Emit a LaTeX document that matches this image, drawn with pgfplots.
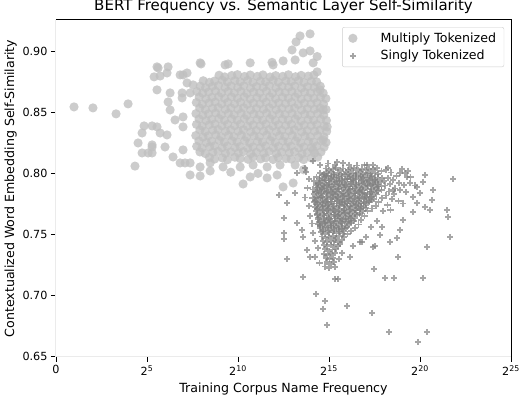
\documentclass[border=0pt]{standalone}
\usepackage{pgfplots}
\pgfplotsset{compat=1.18}
\usepackage{fontspec}
\setmainfont{DejaVu Sans}
\definecolor{spinegray}{HTML}{EBEBEB}
\definecolor{legframe}{HTML}{CCCCCC}
\newcommand{\tickfont}{\fontsize{11.2}{13}\selectfont}
\newcommand{\labfont}{\fontsize{12.6}{15}\selectfont}
\begin{document}
\begin{tikzpicture}
\begin{axis}[
  name=ax,
  scale only axis,
  width=455pt, height=337pt,
  xmin=0, xmax=25, ymin=0.6492, ymax=0.926,
  clip=false,
  axis line style={draw=none},
  xtick={0,5,10,15,20,25},
  xticklabels={0,2\textsuperscript{5},2\textsuperscript{10},2\textsuperscript{15},2\textsuperscript{20},2\textsuperscript{25}},
  ytick={0.65,0.70,0.75,0.80,0.85,0.90},
  yticklabel style={/pgf/number format/.cd, fixed, fixed zerofill, precision=2, assume math mode=true},
  tick label style={font=\tickfont},
  xtick pos=lower, ytick pos=left,
  tick align=outside, major tick length=5pt,
  tick style={black, line width=0.8pt},
  xlabel={Training Corpus Name Frequency},
  ylabel={Contextualized Word Embedding Self-Similarity},
  label style={font=\labfont},
  xlabel style={yshift=-1pt},
  ylabel style={yshift=-1pt},
  title={BERT Frequency vs. Semantic Layer Self-Similarity},
  title style={font=\fontsize{15}{18}\selectfont, yshift=-3pt},
  legend style={at={(0.985,0.979)}, anchor=north east, draw=legframe,
    rounded corners=2pt, fill=white, font=\labfont, row sep=2.5pt,
    inner xsep=6pt, inner ysep=3.5pt,
    /tikz/every odd column/.append style={column sep=21pt}},
  legend cell align=left,
]
% Multiply tokenized names
\addplot[only marks, color=lightgray, mark=*, mark size=4.6pt,
  mark options={draw=lightgray, fill=lightgray, draw opacity=0, fill opacity=0.8}] coordinates {
(8.43,.8131)(8.72,.8118)(9.14,.8127)(9.42,.8112)(9.83,.8133)(10.12,.8121)(10.55,.8116)(10.83,.8135)(11.24,.8119)(11.52,.8128)(11.93,.8114)(12.21,.8131)(12.64,.8122)(12.92,.8117)(13.34,.8129)(13.61,.8113)(14.03,.8126)(14.38,.8134)
(7.91,.8176)(8.20,.8163)(8.62,.8174)(8.90,.8181)(9.31,.8165)(9.60,.8177)(10.02,.8168)(10.30,.8179)(10.71,.8162)(11.00,.8173)(11.42,.8166)(11.70,.8180)(12.11,.8164)(12.40,.8175)(12.82,.8169)(13.10,.8178)(13.52,.8161)(13.80,.8172)(14.21,.8167)(14.56,.8176)
(7.73,.8222)(8.02,.8209)(8.44,.8219)(8.71,.8226)(9.13,.8211)(9.41,.8224)(9.84,.8213)(10.11,.8220)(10.54,.8207)(10.82,.8218)(11.23,.8212)(11.51,.8225)(11.94,.8210)(12.22,.8221)(12.63,.8214)(12.91,.8223)(13.34,.8208)(13.62,.8217)(14.03,.8213)(14.32,.8224)(14.73,.8216)
(7.85,.8267)(8.26,.8254)(8.55,.8265)(8.97,.8271)(9.25,.8256)(9.67,.8268)(9.95,.8258)(10.37,.8269)(10.65,.8252)(11.07,.8263)(11.35,.8257)(11.77,.8270)(12.05,.8254)(12.47,.8265)(12.75,.8259)(13.17,.8268)(13.45,.8251)(13.87,.8262)(14.15,.8257)(14.56,.8266)(14.84,.8255)
(7.68,.8311)(8.08,.8298)(8.37,.8309)(8.78,.8316)(9.07,.8301)(9.48,.8313)(9.77,.8302)(10.18,.8314)(10.47,.8297)(10.88,.8308)(11.17,.8302)(11.58,.8315)(11.87,.8299)(12.28,.8310)(12.57,.8304)(12.98,.8313)(13.27,.8296)(13.68,.8307)(13.97,.8302)(14.38,.8311)(14.72,.8300)
(7.91,.8357)(8.20,.8344)(8.61,.8355)(8.90,.8361)(9.31,.8346)(9.60,.8358)(10.01,.8347)(10.30,.8359)(10.71,.8342)(11.00,.8353)(11.41,.8347)(11.70,.8360)(12.11,.8344)(12.40,.8355)(12.81,.8349)(13.10,.8358)(13.51,.8341)(13.80,.8352)(14.21,.8347)(14.50,.8356)(14.87,.8345)
(7.72,.8402)(8.03,.8389)(8.42,.8399)(8.73,.8406)(9.12,.8391)(9.43,.8403)(9.82,.8392)(10.13,.8404)(10.52,.8387)(10.83,.8398)(11.22,.8392)(11.53,.8405)(11.92,.8389)(12.23,.8400)(12.62,.8394)(12.93,.8403)(13.32,.8386)(13.63,.8397)(14.02,.8392)(14.33,.8401)(14.74,.8390)
(7.86,.8447)(8.25,.8434)(8.56,.8445)(8.95,.8451)(9.26,.8436)(9.65,.8448)(9.96,.8437)(10.35,.8449)(10.66,.8432)(11.05,.8443)(11.36,.8437)(11.75,.8450)(12.06,.8434)(12.45,.8445)(12.76,.8439)(13.15,.8448)(13.46,.8431)(13.85,.8442)(14.16,.8437)(14.55,.8446)(14.86,.8435)
(7.69,.8491)(8.07,.8478)(8.38,.8489)(8.77,.8496)(9.08,.8481)(9.47,.8493)(9.78,.8482)(10.17,.8494)(10.48,.8477)(10.87,.8488)(11.18,.8482)(11.57,.8495)(11.88,.8479)(12.27,.8490)(12.58,.8484)(12.97,.8493)(13.28,.8476)(13.67,.8487)(13.98,.8482)(14.37,.8491)(14.71,.8480)
(7.90,.8537)(8.21,.8524)(8.60,.8535)(8.91,.8541)(9.30,.8526)(9.61,.8538)(10.00,.8527)(10.31,.8539)(10.70,.8522)(11.01,.8533)(11.40,.8527)(11.71,.8540)(12.10,.8524)(12.41,.8535)(12.80,.8529)(13.11,.8538)(13.50,.8521)(13.81,.8532)(14.20,.8527)(14.51,.8536)(14.84,.8525)
(7.71,.8582)(8.04,.8569)(8.41,.8579)(8.74,.8586)(9.11,.8571)(9.44,.8583)(9.81,.8572)(10.14,.8584)(10.51,.8567)(10.84,.8578)(11.21,.8572)(11.54,.8585)(11.91,.8569)(12.24,.8580)(12.61,.8574)(12.94,.8583)(13.31,.8566)(13.64,.8577)(14.01,.8572)(14.34,.8581)(14.70,.8570)
(7.87,.8627)(8.24,.8614)(8.57,.8625)(8.94,.8631)(9.27,.8616)(9.64,.8628)(9.97,.8617)(10.34,.8629)(10.67,.8612)(11.04,.8623)(11.37,.8617)(11.74,.8630)(12.07,.8614)(12.44,.8625)(12.77,.8619)(13.14,.8628)(13.47,.8611)(13.84,.8622)(14.17,.8617)(14.54,.8626)(14.83,.8615)
(7.74,.8672)(8.06,.8659)(8.39,.8669)(8.76,.8676)(9.09,.8661)(9.46,.8673)(9.79,.8662)(10.16,.8674)(10.49,.8657)(10.86,.8668)(11.19,.8662)(11.56,.8675)(11.89,.8659)(12.26,.8670)(12.59,.8664)(12.96,.8673)(13.29,.8656)(13.66,.8667)(13.99,.8662)(14.36,.8671)(14.68,.8660)
(7.92,.8717)(8.22,.8704)(8.59,.8715)(8.92,.8721)(9.29,.8706)(9.62,.8718)(9.99,.8707)(10.32,.8719)(10.69,.8702)(11.02,.8713)(11.39,.8707)(11.72,.8720)(12.09,.8704)(12.42,.8715)(12.79,.8709)(13.12,.8718)(13.49,.8701)(13.82,.8712)(14.19,.8707)(14.52,.8716)
(8.09,.8761)(8.43,.8748)(8.72,.8759)(9.13,.8766)(9.42,.8751)(9.83,.8763)(10.12,.8752)(10.53,.8764)(10.82,.8747)(11.23,.8758)(11.52,.8752)(11.93,.8765)(12.22,.8749)(12.63,.8760)(12.92,.8754)(13.33,.8763)(13.62,.8746)(14.03,.8757)(14.32,.8752)
(8.96,.8806)(9.27,.8793)(9.66,.8804)(9.97,.8811)(10.36,.8796)(10.67,.8808)(11.06,.8797)(11.37,.8809)(11.76,.8792)(12.07,.8803)(12.46,.8797)(12.77,.8810)(13.16,.8794)(13.47,.8805)(13.86,.8799)(14.17,.8808)
(0.99,.8546)(2.03,.8538)(3.30,.8489)(3.96,.8571)(4.34,.8060)(4.51,.8250)(4.73,.8332)(4.84,.8390)(5.28,.8390)(4.73,.8168)(5.06,.8168)(5.28,.8234)
(5.55,.8686)(5.61,.8866)(6.16,.8875)(6.10,.8825)(5.39,.8793)(5.72,.8800)(5.55,.8875)(6.82,.8809)(7.20,.8825)(6.27,.8661)(6.16,.8587)(6.93,.8620)(7.37,.8661)
(6.27,.8521)(6.54,.8439)(6.98,.8464)(5.55,.8382)(5.72,.8332)(6.10,.8316)(5.28,.8217)(5.99,.8217)(6.43,.8135)(6.82,.8086)(7.37,.8086)(5.28,.8168)(8.47,.8086)
(6.98,.8809)(7.20,.8743)(6.93,.8661)(7.53,.8727)(6.98,.8382)(6.98,.8193)(7.09,.8086)(7.92,.8053)(9.18,.8053)(10.12,.8053)(10.83,.8069)(11.60,.8053)(12.31,.8069)(13.14,.8069)
(14.13,.8193)(14.68,.8275)(14.90,.8382)(14.68,.8521)(14.51,.8686)(14.35,.8834)(14.13,.8908)(13.14,.8932)(11.93,.8891)(10.67,.8908)(9.29,.8891)(7.92,.8908)
(7.97,.8899)(9.46,.8899)(11.87,.8912)(12.48,.8924)(13.96,.9146)(13.41,.9129)(13.19,.9080)(12.97,.9014)(13.58,.8990)(13.96,.9006)(14.35,.8960)
(7.37,.7987)(7.92,.7979)(10.28,.7913)(10.67,.7971)(11.60,.7963)(12.15,.7987)(12.48,.7889)(13.03,.7921)(8.47,.8020)(9.60,.8010)(11.10,.8000)(13.60,.8030)
};
\addlegendentry{Multiply Tokenized}
% Singly tokenized names
\addplot[only marks, color=gray, mark=+, mark size=3.1pt,
  mark options={draw=gray, line width=1.8pt, opacity=0.7}] coordinates {
(14.82,.8041)(15.01,.8029)(15.23,.8038)(15.40,.8044)(15.62,.8031)(15.79,.8040)(16.03,.8027)(16.21,.8036)(16.38,.8043)(16.62,.8030)(16.80,.8039)(17.02,.8026)(17.19,.8037)(17.41,.8033)
(14.52,.8006)(14.71,.7993)(14.89,.8004)(15.12,.8011)(15.28,.7996)(15.51,.8007)(15.69,.7998)(15.92,.8009)(16.08,.7992)(16.31,.8003)(16.49,.7997)(16.72,.8010)(16.88,.7994)(17.11,.8005)(17.29,.7999)(17.52,.8008)(17.70,.7995)
(14.31,.7971)(14.48,.7958)(14.72,.7969)(14.90,.7976)(15.11,.7961)(15.29,.7973)(15.52,.7962)(15.70,.7974)(15.91,.7957)(16.09,.7968)(16.32,.7962)(16.50,.7975)(16.71,.7959)(16.89,.7970)(17.12,.7964)(17.30,.7973)(17.51,.7956)(17.69,.7967)(17.92,.7963)
(14.19,.7937)(14.42,.7924)(14.61,.7935)(14.78,.7941)(15.02,.7926)(15.19,.7938)(15.41,.7927)(15.58,.7939)(15.82,.7922)(15.99,.7933)(16.21,.7927)(16.38,.7940)(16.62,.7924)(16.79,.7935)(17.01,.7929)(17.18,.7938)(17.42,.7921)(17.59,.7932)(17.81,.7927)(18.02,.7936)
(14.28,.7902)(14.49,.7889)(14.71,.7899)(14.88,.7906)(15.09,.7891)(15.31,.7903)(15.48,.7892)(15.69,.7904)(15.91,.7887)(16.08,.7898)(16.29,.7892)(16.51,.7905)(16.68,.7889)(16.89,.7900)(17.11,.7894)(17.28,.7903)(17.49,.7886)(17.71,.7897)(17.88,.7892)(18.09,.7901)
(14.11,.7867)(14.32,.7854)(14.49,.7865)(14.71,.7871)(14.92,.7856)(15.09,.7868)(15.31,.7857)(15.52,.7869)(15.69,.7852)(15.91,.7863)(16.12,.7857)(16.29,.7870)(16.51,.7854)(16.72,.7865)(16.89,.7859)(17.11,.7868)(17.32,.7851)(17.49,.7862)(17.71,.7857)(17.88,.7866)
(14.18,.7832)(14.41,.7819)(14.59,.7829)(14.82,.7836)(14.99,.7821)(15.21,.7833)(15.39,.7822)(15.62,.7834)(15.79,.7817)(16.01,.7828)(16.19,.7822)(16.42,.7835)(16.59,.7819)(16.81,.7830)(16.99,.7824)(17.22,.7833)(17.39,.7816)(17.61,.7827)
(14.09,.7797)(14.28,.7784)(14.51,.7795)(14.69,.7801)(14.91,.7786)(15.08,.7798)(15.31,.7787)(15.49,.7799)(15.72,.7782)(15.88,.7793)(16.11,.7787)(16.29,.7800)(16.52,.7784)(16.68,.7795)(16.91,.7789)(17.09,.7798)(17.32,.7781)(17.48,.7792)
(14.19,.7762)(14.38,.7749)(14.61,.7760)(14.79,.7766)(15.02,.7751)(15.18,.7763)(15.41,.7752)(15.59,.7764)(15.82,.7747)(15.98,.7758)(16.21,.7752)(16.39,.7765)(16.62,.7749)(16.78,.7760)(17.01,.7754)(17.22,.7763)
(14.21,.7727)(14.39,.7714)(14.62,.7725)(14.81,.7731)(14.99,.7716)(15.22,.7728)(15.41,.7717)(15.59,.7729)(15.82,.7712)(16.01,.7723)(16.19,.7717)(16.42,.7730)(16.61,.7714)(16.79,.7725)(17.02,.7719)
(14.29,.7692)(14.52,.7679)(14.71,.7690)(14.89,.7696)(15.12,.7681)(15.31,.7693)(15.49,.7682)(15.72,.7694)(15.91,.7677)(16.09,.7688)(16.32,.7682)(16.51,.7695)(16.69,.7679)(16.88,.7690)
(14.32,.7657)(14.49,.7644)(14.72,.7655)(14.91,.7661)(15.09,.7646)(15.32,.7658)(15.51,.7647)(15.69,.7659)(15.92,.7642)(16.11,.7653)(16.29,.7647)(16.52,.7660)
(14.41,.7622)(14.59,.7609)(14.82,.7620)(15.01,.7626)(15.19,.7611)(15.42,.7623)(15.61,.7612)(15.79,.7624)(16.02,.7607)(16.21,.7618)(16.39,.7612)
(14.38,.7587)(14.52,.7574)(14.71,.7585)(14.92,.7591)(15.11,.7576)(15.29,.7588)(15.52,.7577)(15.71,.7589)(15.89,.7572)(16.12,.7583)
(14.49,.7552)(14.68,.7539)(14.91,.7550)(15.09,.7556)(15.28,.7541)(15.51,.7553)(15.69,.7542)(15.91,.7554)
(14.58,.7517)(14.79,.7504)(14.98,.7515)(15.19,.7521)(15.41,.7506)(15.62,.7518)(15.79,.7507)
(14.62,.7481)(14.81,.7469)(15.02,.7479)(15.21,.7486)(15.39,.7472)(15.58,.7483)
(14.69,.7446)(14.91,.7434)(15.09,.7445)(15.31,.7451)(15.52,.7437)
(14.72,.7411)(14.89,.7399)(15.11,.7409)(15.29,.7416)(15.48,.7402)
(14.78,.7377)(15.01,.7364)(15.19,.7375)(15.38,.7381)
(14.71,.7341)(14.92,.7329)(15.12,.7340)(15.31,.7346)
(14.82,.7306)(15.03,.7294)(15.22,.7305)
(14.88,.7272)(15.09,.7259)(15.28,.7270)
(14.79,.7236)(15.01,.7224)(15.31,.7232)
(14.66,.7529)(14.94,.7524)(15.27,.7531)(15.53,.7522)(15.84,.7528)
(14.52,.7565)(14.81,.7558)(15.12,.7566)(15.41,.7560)(15.72,.7564)(16.01,.7557)
(14.48,.7599)(14.79,.7594)(15.08,.7601)(15.38,.7593)(15.67,.7598)(15.96,.7602)(16.22,.7595)
(14.41,.7635)(14.72,.7628)(15.01,.7636)(15.33,.7630)(15.62,.7634)(15.91,.7627)(16.19,.7633)(16.42,.7629)
(14.37,.7669)(14.66,.7664)(14.97,.7671)(15.26,.7663)(15.57,.7668)(15.86,.7672)(16.17,.7665)(16.44,.7670)(16.68,.7664)
(14.33,.7705)(14.64,.7698)(14.93,.7706)(15.24,.7700)(15.53,.7704)(15.84,.7697)(16.13,.7703)(16.44,.7699)(16.73,.7706)
(14.36,.7739)(14.67,.7734)(14.96,.7741)(15.27,.7733)(15.56,.7738)(15.87,.7742)(16.16,.7735)(16.47,.7740)(16.76,.7734)(17.05,.7739)
(14.24,.7775)(14.53,.7768)(14.84,.7776)(15.13,.7770)(15.44,.7774)(15.73,.7767)(16.04,.7773)(16.33,.7769)(16.64,.7776)(16.93,.7770)(17.21,.7774)
(14.31,.7809)(14.62,.7804)(14.91,.7811)(15.22,.7803)(15.51,.7808)(15.82,.7812)(16.11,.7805)(16.42,.7810)(16.71,.7804)(17.02,.7809)(17.31,.7806)
(14.26,.7845)(14.55,.7838)(14.86,.7846)(15.15,.7840)(15.46,.7844)(15.75,.7837)(16.06,.7843)(16.35,.7839)(16.66,.7846)(16.95,.7840)(17.26,.7844)(17.55,.7839)
(14.34,.7879)(14.63,.7874)(14.94,.7881)(15.23,.7873)(15.54,.7878)(15.83,.7882)(16.14,.7875)(16.43,.7880)(16.74,.7874)(17.03,.7879)(17.34,.7876)(17.62,.7881)
(14.39,.7915)(14.68,.7908)(14.99,.7916)(15.28,.7910)(15.59,.7914)(15.88,.7907)(16.19,.7913)(16.48,.7909)(16.79,.7916)(17.08,.7910)(17.39,.7914)(17.68,.7909)
(14.51,.7949)(14.82,.7944)(15.11,.7951)(15.42,.7943)(15.71,.7948)(16.02,.7952)(16.31,.7945)(16.62,.7950)(16.91,.7944)(17.22,.7949)(17.51,.7946)
(14.68,.7985)(14.97,.7978)(15.28,.7986)(15.57,.7980)(15.88,.7984)(16.17,.7977)(16.48,.7983)(16.77,.7979)(17.08,.7986)(17.37,.7980)
(17.62,.8047)(17.88,.8021)(18.15,.8032)(18.42,.8008)(18.71,.7981)(18.22,.7959)(18.51,.7944)(18.83,.7918)(19.12,.7902)(18.35,.7912)(18.61,.7876)(18.92,.7861)(19.21,.7845)(18.28,.7852)(18.58,.7829)
(18.11,.7818)(18.45,.7793)(18.82,.7774)(19.05,.7752)(17.91,.7795)(17.72,.7762)(18.21,.7738)(17.58,.7731)(17.35,.7712)(17.12,.7688)(16.95,.7652)(16.78,.7618)(16.62,.7581)(16.45,.7549)(16.21,.7528)
(16.02,.7501)(15.82,.7479)(15.71,.7452)(15.62,.7418)(16.31,.7402)(16.72,.7438)(17.05,.7475)(17.31,.7561)(17.62,.7612)(17.95,.7688)(18.38,.7702)(19.48,.7968)(19.71,.7901)(19.32,.8021)(19.02,.8037)
(13.72,.8012)(13.91,.7951)(13.82,.7879)(13.69,.7802)(13.88,.7731)(13.95,.7652)(14.05,.7588)(14.12,.7512)(14.25,.7445)(14.41,.7389)(14.52,.8072)(14.95,.8081)(15.35,.8068)(16.10,.8071)(16.55,.8065)(16.95,.8072)(14.21,.7315)(14.48,.7262)(15.55,.7298)(15.71,.7345)
(21.83,.7954)(21.50,.7700)(21.55,.7642)(21.66,.7478)(20.40,.7396)(20.18,.7141)(18.09,.7141)(18.58,.7141)(17.48,.7215)(17.37,.6853)(16.00,.6911)(14.90,.6755)(14.68,.6886)(14.79,.6952)(14.29,.7009)
(18.31,.6697)(20.40,.6697)(19.90,.6615)(12.70,.7297)(13.58,.7149)(12.53,.7634)(12.53,.7511)(12.53,.7461)(12.26,.7823)(12.70,.7757)(14.13,.8102)(17.54,.7404)(18.80,.7313)(15.34,.7133)(15.50,.7133)
(20.29,.7987)(20.18,.7930)(20.73,.7864)(20.67,.7782)(20.29,.7724)(20.56,.7700)(19.63,.7683)(20.01,.7839)(19.85,.7889)(19.30,.7971)(19.19,.8004)(19.46,.7922)(19.08,.7618)(18.91,.7535)(18.75,.7470)
(18.36,.7437)(17.92,.7560)(17.81,.7494)(18.91,.8004)(18.25,.8045)(18.53,.7864)(19.63,.7807)(19.85,.7757)(17.43,.8069)(17.10,.8069)(15.78,.8086)(15.45,.8094)(13.69,.8045)(13.25,.8004)(13.14,.7839)
(13.25,.7593)(13.52,.7535)(13.58,.7478)(13.80,.7371)(13.96,.7313)(17.43,.7396)(16.82,.7437)(16.16,.7313)
};
\addlegendentry{Singly Tokenized}
% spines: light left/bottom, black top/right
\draw[spinegray, line width=1pt] (rel axis cs:0,1) -- (rel axis cs:0,0) -- (rel axis cs:1,0);
\draw[black, line width=1pt] (rel axis cs:0,1) -- (rel axis cs:1,1) -- (rel axis cs:1,0);
\end{axis}
\pgfresetboundingbox
\path[use as bounding box] ([xshift=-56pt,yshift=-39pt]ax.south west) rectangle ([xshift=9pt,yshift=20pt]ax.north east);
\end{tikzpicture}
\end{document}
